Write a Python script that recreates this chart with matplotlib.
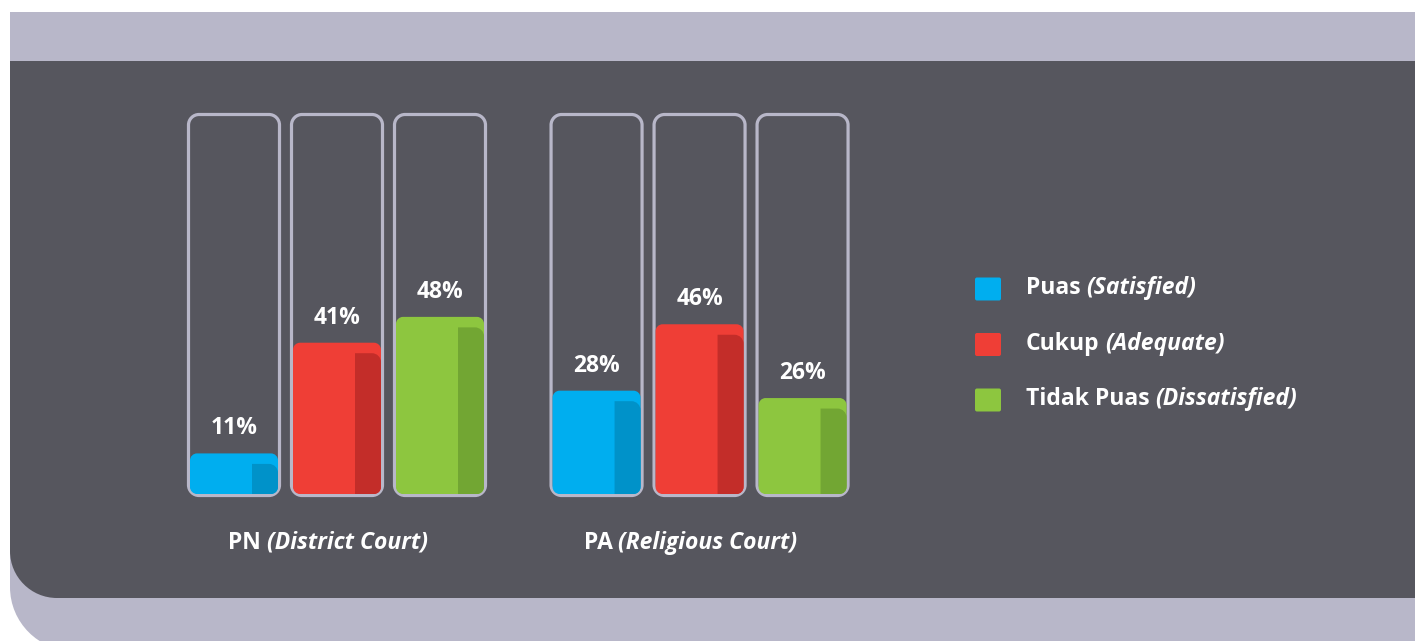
import matplotlib
matplotlib.use("Agg")
import matplotlib.pyplot as plt
from matplotlib.path import Path
from matplotlib.patches import PathPatch, FancyBboxPatch

plt.rcParams["font.family"] = ["Open Sans", "DejaVu Sans"]

# ---- data -------------------------------------------------------------
groups = ["PN", "PA"]
group_notes = ["(District Court)", "(Religious Court)"]
series = ["Puas", "Cukup", "Tidak Puas"]
series_notes = ["(Satisfied)", "(Adequate)", "(Dissatisfied)"]
pn_values = [11, 41, 48]
pa_values = [28, 46, 26]

# ---- style ------------------------------------------------------------
W, H = 1415, 641
LIGHT = "#B8B7C9"
DARK = "#56565E"
fill_colors = ["#00AEEF", "#EF3E36", "#8DC63F"]
shade_colors = ["#0092C9", "#C32D29", "#72A633"]
TEXT_SIZE = 16.5
VALUE_SIZE = 16.5
WEIGHT = "bold"

K = 0.5523


def rounded_path(xa, ya, xb, yb, radii, sx=1.0, sy=1.0):
    """Rectangle with per-corner radii (bl, br, tr, tl) given in pixels.
    sx, sy are pixels per data unit along x and y."""
    rs = [(r / sx, r / sy) for r in radii]
    (blx, bly), (brx, bry), (trx, try_), (tlx, tly) = rs
    v = [(xa + blx, ya), (xb - brx, ya),
         (xb - brx + K * brx, ya), (xb, ya + bry - K * bry), (xb, ya + bry),
         (xb, yb - try_),
         (xb, yb - try_ + K * try_), (xb - trx + K * trx, yb), (xb - trx, yb),
         (xa + tlx, yb),
         (xa + tlx - K * tlx, yb), (xa, yb - tly + K * tly), (xa, yb - tly),
         (xa, ya + bly),
         (xa, ya + bly - K * bly), (xa + blx - K * blx, ya), (xa + blx, ya),
         (xa + blx, ya)]
    c = [Path.MOVETO, Path.LINETO,
         Path.CURVE4, Path.CURVE4, Path.CURVE4,
         Path.LINETO,
         Path.CURVE4, Path.CURVE4, Path.CURVE4,
         Path.LINETO,
         Path.CURVE4, Path.CURVE4, Path.CURVE4,
         Path.LINETO,
         Path.CURVE4, Path.CURVE4, Path.CURVE4,
         Path.CLOSEPOLY]
    return Path(v, c)


fig = plt.figure(figsize=(W / 100, H / 100), dpi=100)
fig.patch.set_facecolor("white")

# background panels in pixel space (y grows downward)
bg = fig.add_axes([0, 0, 1, 1])
bg.set_xlim(0, W)
bg.set_ylim(H, 0)
bg.axis("off")
bg.add_patch(PathPatch(rounded_path(10, 12, W + 50, 651, (0, 0, 0, 64)), fc=LIGHT, ec="none"))
bg.add_patch(PathPatch(rounded_path(10, 61, W + 50, 598, (0, 0, 0, 47)), fc=DARK, ec="none"))

# bar axes
slot_px = 103.0          # pixels per category slot
pct_px = 3.69            # pixels per percentage point
positions = [0, 1, 2, 3.52, 4.52, 5.52]
x0_px, y0_px = 182.5, 494
xmin, xmax = -0.5, positions[-1] + 0.5
ymax = 378 / pct_px
ax = fig.add_axes([x0_px / W, (H - y0_px) / H, (xmax - xmin) * slot_px / W, 378 / H])
ax.set_xlim(xmin, xmax)
ax.set_ylim(0, ymax)
ax.axis("off")

values = pn_values + pa_values
half_box = 45.5 / slot_px
half_fill = 44.0 / slot_px
box_lo = -1.5 / pct_px
box_hi = (494 - 114.5) / pct_px

for i, (xc, val) in enumerate(zip(positions, values)):
    k = i % 3
    # container outline
    ax.add_patch(PathPatch(rounded_path(xc - half_box, box_lo, xc + half_box, box_hi, (10.5,) * 4,
                                        slot_px, pct_px),
                           fc="none", ec=LIGHT, lw=2.3, clip_on=False))
    # filled level
    ax.add_patch(PathPatch(rounded_path(xc - half_fill, 0, xc + half_fill, val, (7, 7, 7, 7),
                                        slot_px, pct_px),
                           fc=fill_colors[k], ec="none", clip_on=False))
    # darker right-hand strip
    sx = xc + half_fill - 26 / slot_px
    ax.add_patch(PathPatch(rounded_path(sx, 0, xc + half_fill, val - 10.5 / pct_px, (0, 7, 9, 0),
                                        slot_px, pct_px),
                           fc=shade_colors[k], ec="none", clip_on=False))
    ax.annotate(f"{val}%", (xc, val), xytext=(0, 18), textcoords="offset points",
                ha="center", va="center", color="white", fontsize=VALUE_SIZE, fontweight=WEIGHT)

fig.canvas.draw()
renderer = fig.canvas.get_renderer()


def text_width(s, **kw):
    t = bg.text(0, 0, s, **kw)
    w = t.get_window_extent(renderer).width
    t.remove()
    return w


def two_part(x, y, a, b, size, align="left"):
    kw_a = dict(fontsize=size, fontweight=WEIGHT, color="white")
    kw_b = dict(fontsize=size, fontweight=WEIGHT, fontstyle="italic", color="white")
    wa = text_width(a, **kw_a)
    wb = text_width(b, **kw_b)
    gap = size * 100 / 72 * 0.24
    start = x - (wa + gap + wb) / 2 if align == "center" else x
    bg.text(start, y, a, ha="left", va="center", **kw_a)
    bg.text(start + wa + gap, y, b, ha="left", va="center", **kw_b)


# group captions under each trio of bars
for g, (name, note) in enumerate(zip(groups, group_notes)):
    xc = (positions[3 * g] + positions[3 * g + 2]) / 2
    px = ax.transData.transform((xc, 0))[0]
    two_part(px - 9, 543, name, note, TEXT_SIZE, align="center")

# legend
for k, (name, note) in enumerate(zip(series, series_notes)):
    yc = 289 + 55.5 * k
    bg.add_patch(FancyBboxPatch((975, yc - 11.5), 26, 23, boxstyle="round,pad=0,rounding_size=2",
                                fc=fill_colors[k], ec="none"))
    two_part(1026, yc - 1, name, note, TEXT_SIZE)

fig.savefig("out.png", dpi=100, facecolor="white")
